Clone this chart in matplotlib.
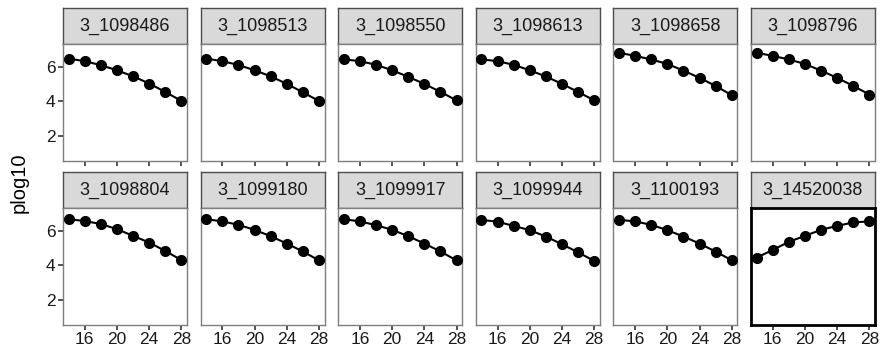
import matplotlib

matplotlib.use("Agg")

import matplotlib.pyplot as plt
import numpy as np

plt.rcParams["font.family"] = ["Liberation Sans", "DejaVu Sans"]

TEMPERATURE = [14, 16, 18, 20, 22, 24, 26, 28]
FACETS = [
    "3_1098486", "3_1098513", "3_1098550", "3_1098613", "3_1098658", "3_1098796",
    "3_1098804", "3_1099180", "3_1099917", "3_1099944", "3_1100193", "3_14520038",
]
PLOG10 = [
    [6.48, 6.33, 6.10, 5.80, 5.45, 5.03, 4.54, 4.02],
    [6.48, 6.33, 6.11, 5.80, 5.45, 5.01, 4.52, 4.01],
    [6.44, 6.33, 6.12, 5.80, 5.42, 5.01, 4.54, 4.05],
    [6.44, 6.33, 6.12, 5.80, 5.44, 5.01, 4.54, 4.05],
    [6.82, 6.64, 6.43, 6.17, 5.78, 5.36, 4.89, 4.35],
    [6.82, 6.64, 6.43, 6.17, 5.78, 5.36, 4.89, 4.39],
    [6.68, 6.57, 6.40, 6.10, 5.71, 5.32, 4.83, 4.30],
    [6.68, 6.55, 6.35, 6.06, 5.69, 5.26, 4.80, 4.28],
    [6.68, 6.55, 6.33, 6.06, 5.69, 5.26, 4.80, 4.28],
    [6.64, 6.53, 6.29, 6.04, 5.67, 5.22, 4.75, 4.25],
    [6.64, 6.55, 6.35, 6.04, 5.67, 5.26, 4.79, 4.29],
    [4.44, 4.89, 5.36, 5.71, 6.06, 6.29, 6.49, 6.55],
]
HIGHLIGHT = "3_14520038"

W, H = 880, 359
LEFT0, STEP, PW = 63, 137.6, 124
ROW_TOP = [8, 172]
STRIP_H, PANEL_H = 36, 116.5


def main():
    fig = plt.figure(figsize=(W / 100, H / 100), dpi=100)
    for i, (name, values) in enumerate(zip(FACETS, PLOG10)):
        row, col = divmod(i, 6)
        x0 = (LEFT0 + col * STEP) / W
        top = ROW_TOP[row]
        strip = fig.add_axes([x0, 1 - (top + STRIP_H) / H, PW / W, STRIP_H / H])
        strip.set_facecolor("#d9d9d9")
        strip.set_xticks([])
        strip.set_yticks([])
        for sp in strip.spines.values():
            sp.set_color("#4d4d4d")
            sp.set_linewidth(1.0)
        strip.text(0.5, 0.5, name, ha="center", va="center", fontsize=13,
                   color="#1a1a1a", transform=strip.transAxes)

        ax = fig.add_axes([x0, 1 - (top + STRIP_H + PANEL_H) / H, PW / W, PANEL_H / H])
        ax.plot(TEMPERATURE, values, "-o", color="black", linewidth=1.5,
                markersize=7, zorder=3)
        ax.set_xlim(13.3, 28.7)
        ax.set_ylim(0.55, 7.33)
        ax.set_xticks([16, 20, 24, 28])
        ax.set_yticks([2, 4, 6])
        ax.tick_params(length=3.5, width=1.2, color="#333333", labelsize=12.5,
                       labelcolor="#1a1a1a", pad=2)
        if row == 0:
            ax.tick_params(labelbottom=False)
        if col != 0:
            ax.tick_params(left=False, labelleft=False)
        for sp in ax.spines.values():
            if name == HIGHLIGHT:
                sp.set_color("black")
                sp.set_linewidth(2.0)
            else:
                sp.set_color("#7f7f7f")
                sp.set_linewidth(1.0)

    fig.text(0.022, 0.49, "plog10", rotation=90, ha="center", va="center",
             fontsize=14.5, color="black")
    fig.savefig("out.png", dpi=100)
    plt.close(fig)


if __name__ == "__main__":
    main()
